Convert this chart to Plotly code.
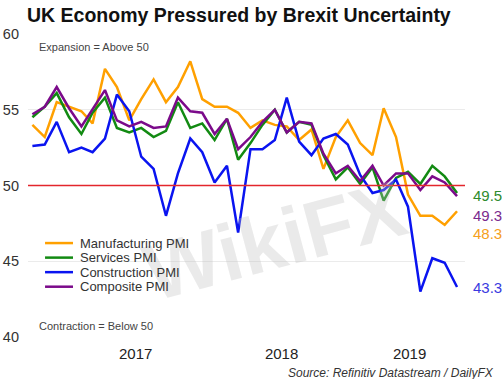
import pandas as pd
import plotly.graph_objects as go

dates = pd.date_range("2016-10-01", periods=36, freq="MS")

manufacturing = [54.0, 53.2, 55.5, 55.2, 54.9, 54.1, 57.7, 56.5, 54.3, 55.7, 57.0, 55.5,
                 56.5, 58.2, 55.7, 55.2, 55.2, 54.8, 53.8, 54.3, 54.0, 53.9, 53.0, 53.7,
                 51.1, 53.2, 54.3, 52.8, 52.0, 55.1, 53.2, 49.4, 48.0, 48.0, 47.4, 48.3]
services = [54.5, 55.2, 56.1, 54.5, 53.4, 54.8, 55.8, 53.8, 53.5, 53.8, 53.2, 53.6,
            55.5, 53.8, 54.1, 53.0, 54.4, 51.7, 52.8, 54.0, 55.0, 53.5, 54.2, 54.0,
            52.0, 50.4, 51.2, 50.1, 51.2, 49.0, 50.5, 50.9, 50.1, 51.3, 50.6, 49.5]
construction = [52.6, 52.7, 54.2, 52.2, 52.5, 52.2, 53.1, 56.0, 54.9, 51.9, 51.1, 48.0,
                50.8, 53.1, 52.2, 50.2, 51.3, 46.9, 52.4, 52.4, 53.0, 55.8, 52.9, 52.0,
                53.1, 53.4, 52.7, 50.7, 49.5, 49.7, 50.4, 48.6, 43.0, 45.2, 44.9, 43.3]
composite = [54.7, 55.2, 56.5, 55.1, 53.9, 55.0, 56.3, 54.3, 53.9, 54.2, 53.8, 53.9,
             55.8, 54.9, 54.8, 53.4, 54.4, 52.4, 53.2, 54.2, 55.0, 53.5, 54.2, 54.1,
             52.1, 50.8, 51.3, 50.3, 51.3, 50.0, 50.8, 50.8, 49.7, 50.6, 50.2, 49.3]

series_names = ["Manufacturing PMI", "Services PMI", "Construction PMI", "Composite PMI"]
year_ticks = ["2017-06-17", "2018-06-18", "2019-05-05"]
year_labels = ["2017", "2018", "2019"]
y_ticks = [40, 45, 50, 55, 60]

line_colors = ["#FFA000", "#128A12", "#0A14F0", "#7B0A8A"]
label_colors = ["#F5A020", "#2E8B2E", "#3A3AE0", "#7A2A8E"]
label_yshift = [-22, -2, 0, -19]  # end-label offsets (px) to avoid overlap

all_series = [manufacturing, services, construction, composite]

fig = go.Figure()
FONT = "Liberation Sans, Arial, sans-serif"

# watermark
fig.add_annotation(text="<b>WikiFX</b>", xref="paper", yref="paper", x=0.565, y=0.32,
                   xanchor="center", yanchor="middle",
                   showarrow=False, textangle=-15,
                   font=dict(family=FONT, size=80, color="rgba(190,190,190,0.33)"))

for name, vals, col in zip(series_names, all_series, line_colors):
    fig.add_trace(go.Scatter(x=dates, y=vals, mode="lines", name=name,
                             line=dict(color=col, width=2.5), showlegend=False))

# reference line at 50
fig.add_shape(type="line", xref="paper", yref="y", x0=0, x1=1, y0=50, y1=50,
              line=dict(color="#E3262C", width=1.3), layer="above")

# end labels
for vals, col, ys in zip(all_series, label_colors, label_yshift):
    fig.add_annotation(x=dates[-1], y=vals[-1], text=f"{vals[-1]:.1f}", showarrow=False,
                       xanchor="left", yanchor="middle", xshift=14, yshift=ys,
                       font=dict(family=FONT, size=15, color=col))

# custom legend
leg_y = [0.310, 0.262, 0.214, 0.166]
for name, col, ly in zip(series_names, line_colors, leg_y):
    fig.add_shape(type="line", xref="paper", yref="paper", x0=0.039, x1=0.103, y0=ly, y1=ly,
                  line=dict(color=col, width=2.5))
    fig.add_annotation(text=name, xref="paper", yref="paper", x=0.115, y=ly,
                       xanchor="left", yanchor="middle", showarrow=False,
                       font=dict(family=FONT, size=13, color="#333333"))

fig.add_annotation(text="Expansion = Above 50", xref="paper", yref="paper", x=0.02, y=0.957,
                   xanchor="left", yanchor="middle", showarrow=False,
                   font=dict(family=FONT, size=11, color="#444444"))
fig.add_annotation(text="Contraction = Below 50", xref="paper", yref="paper", x=0.02, y=0.036,
                   xanchor="left", yanchor="middle", showarrow=False,
                   font=dict(family=FONT, size=11, color="#444444"))
fig.add_annotation(text="<i>Source: Refinitiv Datastream / DailyFX</i>", xref="paper", yref="paper",
                   x=1.07, y=-0.118, xanchor="right", yanchor="middle", showarrow=False,
                   font=dict(family=FONT, size=12, color="#333333"))

fig.update_layout(
    width=502, height=379,
    margin=dict(l=28, r=37, t=34, b=42, autoexpand=False),
    paper_bgcolor="white", plot_bgcolor="white",
    title=dict(text="<b>UK Economy Pressured by Brexit Uncertainty</b>",
               x=27 / 502, xanchor="left", xref="container",
               y=1 - 15 / 379, yanchor="middle", yref="container",
               font=dict(family=FONT, size=19.5, color="#111111")),
    xaxis=dict(range=["2016-09-20", "2019-09-21"], showgrid=False, zeroline=False,
               tickmode="array", tickvals=year_ticks, ticktext=year_labels,
               ticks="", showline=False, ticklabelstandoff=6,
               tickfont=dict(family=FONT, size=15, color="#222222")),
    yaxis=dict(range=[40, 60], tickvals=y_ticks, showgrid=True, gridcolor="#EBEBEB",
               gridwidth=1, zeroline=False, ticks="", showline=False, ticklabelstandoff=8,
               tickfont=dict(family=FONT, size=14.5, color="#333333")),
    showlegend=False,
)

fig.write_html("out.html", config={"displayModeBar": False},
               post_script="document.body.style.margin='0';")
